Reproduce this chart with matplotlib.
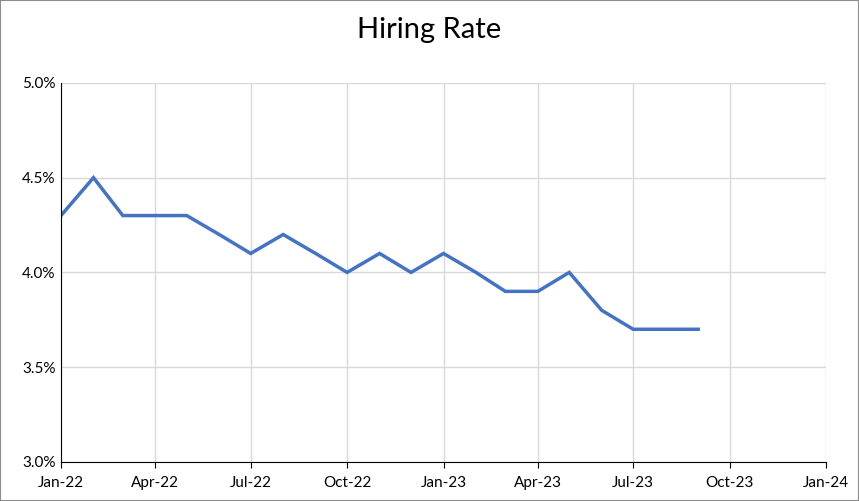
import pandas as pd
import matplotlib.pyplot as plt
import matplotlib.dates as mdates
from matplotlib.ticker import FuncFormatter

plt.rcParams['font.family'] = ['Lato', 'DejaVu Sans']

months = ['2022-01', '2022-02', '2022-03', '2022-04', '2022-05', '2022-06',
          '2022-07', '2022-08', '2022-09', '2022-10', '2022-11', '2022-12',
          '2023-01', '2023-02', '2023-03', '2023-04', '2023-05', '2023-06',
          '2023-07', '2023-08', '2023-09']
hiring_rate = [4.3, 4.5, 4.3, 4.3, 4.3, 4.2, 4.1, 4.2, 4.1, 4.0, 4.1, 4.0,
               4.1, 4.0, 3.9, 3.9, 4.0, 3.8, 3.7, 3.7, 3.7]
tick_dates = pd.date_range('2022-01-01', '2024-01-01', freq='3MS')

dt = pd.DataFrame({'Time': pd.to_datetime(months), 'Rate': hiring_rate})

fig = plt.figure(figsize=(8.59, 5.01), dpi=100)
fig.patches.append(plt.Rectangle((0, 0), 1, 1, transform=fig.transFigure,
                                 fill=False, edgecolor='#8c8c8c', linewidth=1.5))
ax = fig.add_axes([0.071, 0.078, 0.8906, 0.7565])

ax.plot(dt['Time'], dt['Rate'], color='#4472c4', linewidth=2.5, solid_joinstyle='miter')

ax.set_xlim(tick_dates[0], tick_dates[-1])
ax.set_ylim(3.0, 5.0)
ax.set_xticks(tick_dates)
ax.xaxis.set_major_formatter(mdates.DateFormatter('%b-%y'))
ax.set_yticks([3.0, 3.5, 4.0, 4.5, 5.0])
ax.yaxis.set_major_formatter(FuncFormatter(lambda v, p: f'{v:.1f}%'))

ax.grid(True, color='#d9d9d9', linewidth=1)
ax.set_axisbelow(True)
for s in ['top', 'right']:
    ax.spines[s].set_visible(False)
ax.spines['left'].set_color('black')
ax.spines['bottom'].set_color('black')
ax.tick_params(axis='y', length=0, labelsize=11, pad=4)
ax.tick_params(axis='x', length=4, labelsize=11, pad=6, direction='out')

fig.text(0.5, 0.94, 'Hiring Rate', ha='center', va='center', fontsize=21)

fig.savefig('out.png', dpi=100)
